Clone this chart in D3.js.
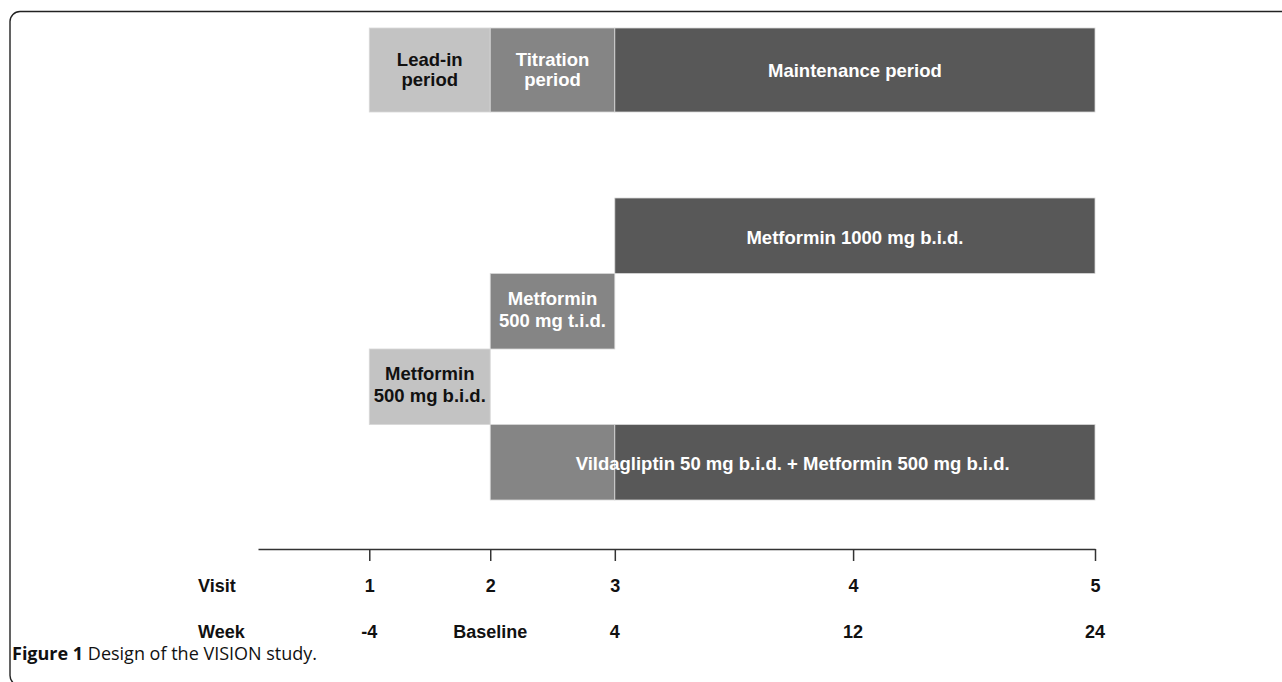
<!DOCTYPE html>
<html>
<head>
<meta charset="utf-8">
<script src="https://cdn.jsdelivr.net/npm/d3@7"></script>
<style>
  html, body { margin: 0; padding: 0; background: #fff; }
  svg { display: block; }
  .lbl { font-family: "Liberation Sans", Arial, sans-serif; font-weight: bold; font-size: 18.5px; }
  .ax { font-family: "Liberation Sans", Arial, sans-serif; font-weight: bold; font-size: 18px; }
</style>
</head>
<body>
<svg width="1282" height="682"></svg>
<script>
//*
//* Data
//*

var visits = ["1", "2", "3", "4", "5"];
var weeks = ["-4", "Baseline", "4", "12", "24"];
var visitSlots = [0, 1, 2.03, 4, 6];        // relative spacing of the visits on the time line

// study periods (top band), given as visit numbers
var periodLines = [["Lead-in", "period"], ["Titration", "period"], ["Maintenance period"]];
var periodFrom = [1, 2, 3];
var periodTo = [2, 3, 5];
var periodShade = [0, 1, 2];

// treatment blocks, one per segment
var segFrom = [3, 2, 1, 2, 3];
var segTo = [5, 3, 2, 3, 5];
var segRow = [0, 1, 2, 3, 3];
var segShade = [2, 1, 0, 1, 2];

// treatment labels
var labelLines = [["Metformin 1000 mg b.i.d."], ["Metformin", "500 mg t.i.d."], ["Metformin", "500 mg b.i.d."], ["Vildagliptin 50 mg b.i.d. + Metformin 500 mg b.i.d."]];
var labelFrom = [3, 2, 1, 2];
var labelTo = [5, 3, 2, 5];
var labelRow = [0, 1, 2, 3];

var shades = ["#c3c3c3", "#858585", "#585858"];
var inkOn = ["#111", "#fff", "#fff"];

//*
//* Drawing
//*

var svg = d3.select("svg");

var x = d3.scaleLinear().domain([-0.92, 6]).range([258, 1095]);
function vx(v) { return x(visitSlots[v - 1]); }

var rowY = d3.scaleBand().domain([0, 1, 2, 3]).range([198, 500]);
var topY = 28, topH = 84;

/* frame */
svg.append("rect")
  .attr("x", 10).attr("y", 11.5)
  .attr("width", 1400).attr("height", 674)
  .attr("rx", 10).attr("ry", 10)
  .attr("fill", "none")
  .attr("stroke", "#222")
  .attr("stroke-width", 1.4);

/* period band */
svg.selectAll("rect.period")
  .data(periodLines)
  .enter()
  .append("rect")
  .attr("class", "period")
  .attr("x", function(d, i) { return vx(periodFrom[i]); })
  .attr("y", topY)
  .attr("width", function(d, i) { return vx(periodTo[i]) - vx(periodFrom[i]); })
  .attr("height", topH)
  .attr("fill", function(d, i) { return shades[periodShade[i]]; })
  .attr("stroke", "#d8d8d8")
  .attr("stroke-width", 0.8);

var pt = svg.selectAll("text.period")
  .data(periodLines)
  .enter()
  .append("text")
  .attr("class", "lbl period")
  .attr("text-anchor", "middle")
  .attr("fill", function(d, i) { return inkOn[periodShade[i]]; })
  .attr("x", function(d, i) { return (vx(periodFrom[i]) + vx(periodTo[i])) / 2; })
  .attr("y", topY + topH / 2);
pt.selectAll("tspan")
  .data(function(d) { return d; })
  .enter()
  .append("tspan")
  .attr("x", function() { return d3.select(this.parentNode).attr("x"); })
  .attr("dy", function(d, j, all) { return all.length > 1 ? (j === 0 ? -4 : 20) : 7; })
  .text(function(d) { return d; });

/* treatment blocks */
svg.selectAll("rect.seg")
  .data(segRow)
  .enter()
  .append("rect")
  .attr("class", "seg")
  .attr("x", function(d, i) { return vx(segFrom[i]); })
  .attr("y", function(d) { return rowY(d); })
  .attr("width", function(d, i) { return vx(segTo[i]) - vx(segFrom[i]); })
  .attr("height", rowY.bandwidth())
  .attr("fill", function(d, i) { return shades[segShade[i]]; })
  .attr("stroke", "#d8d8d8")
  .attr("stroke-width", 0.8);

var lt = svg.selectAll("text.treat")
  .data(labelLines)
  .enter()
  .append("text")
  .attr("class", "lbl treat")
  .attr("text-anchor", "middle")
  .attr("fill", function(d, i) {
    var k = segRow.indexOf(labelRow[i]);
    return inkOn[segShade[k]];
  })
  .attr("x", function(d, i) { return (vx(labelFrom[i]) + vx(labelTo[i])) / 2; })
  .attr("y", function(d, i) { return rowY(labelRow[i]) + rowY.bandwidth() / 2; });
lt.selectAll("tspan")
  .data(function(d) { return d; })
  .enter()
  .append("tspan")
  .attr("x", function() { return d3.select(this.parentNode).attr("x"); })
  .attr("dy", function(d, j, all) { return all.length > 1 ? (j === 0 ? -6.5 : 22) : 8; })
  .text(function(d) { return d; });

/* time axis */
var axis = d3.axisBottom(x)
  .tickValues(visitSlots)
  .tickSize(12)
  .tickSizeOuter(0)
  .tickPadding(0)
  .tickFormat(function(d) { return visits[visitSlots.indexOf(d)]; });

var ag = svg.append("g")
  .attr("transform", "translate(0,549)")
  .call(axis);
ag.select(".domain").attr("stroke", "#333").attr("stroke-width", 1.5);
ag.selectAll(".tick line").attr("stroke", "#333").attr("stroke-width", 1.5);
ag.selectAll(".tick text")
  .attr("class", "ax")
  .attr("font-size", null)
  .attr("dy", null)
  .attr("y", 43)
  .attr("fill", "#111");

svg.selectAll("text.week")
  .data(weeks)
  .enter()
  .append("text")
  .attr("class", "ax week")
  .attr("text-anchor", "middle")
  .attr("fill", "#111")
  .attr("x", function(d, i) { return x(visitSlots[i]); })
  .attr("y", 638)
  .text(function(d) { return d; });

svg.append("text")
  .attr("class", "ax")
  .attr("x", 198).attr("y", 592)
  .attr("fill", "#111")
  .text("Visit");
svg.append("text")
  .attr("class", "ax")
  .attr("x", 198).attr("y", 638)
  .attr("fill", "#111")
  .text("Week");

/* caption */
var cap = svg.append("text")
  .attr("x", 12).attr("y", 660)
  .style("font-family", "'Open Sans', 'Noto Sans', sans-serif")
  .style("font-size", "18px")
  .attr("fill", "#111");
cap.append("tspan").style("font-weight", "bold").text("Figure 1");
cap.append("tspan").text(" Design of the VISION study.");
</script>
</body>
</html>
